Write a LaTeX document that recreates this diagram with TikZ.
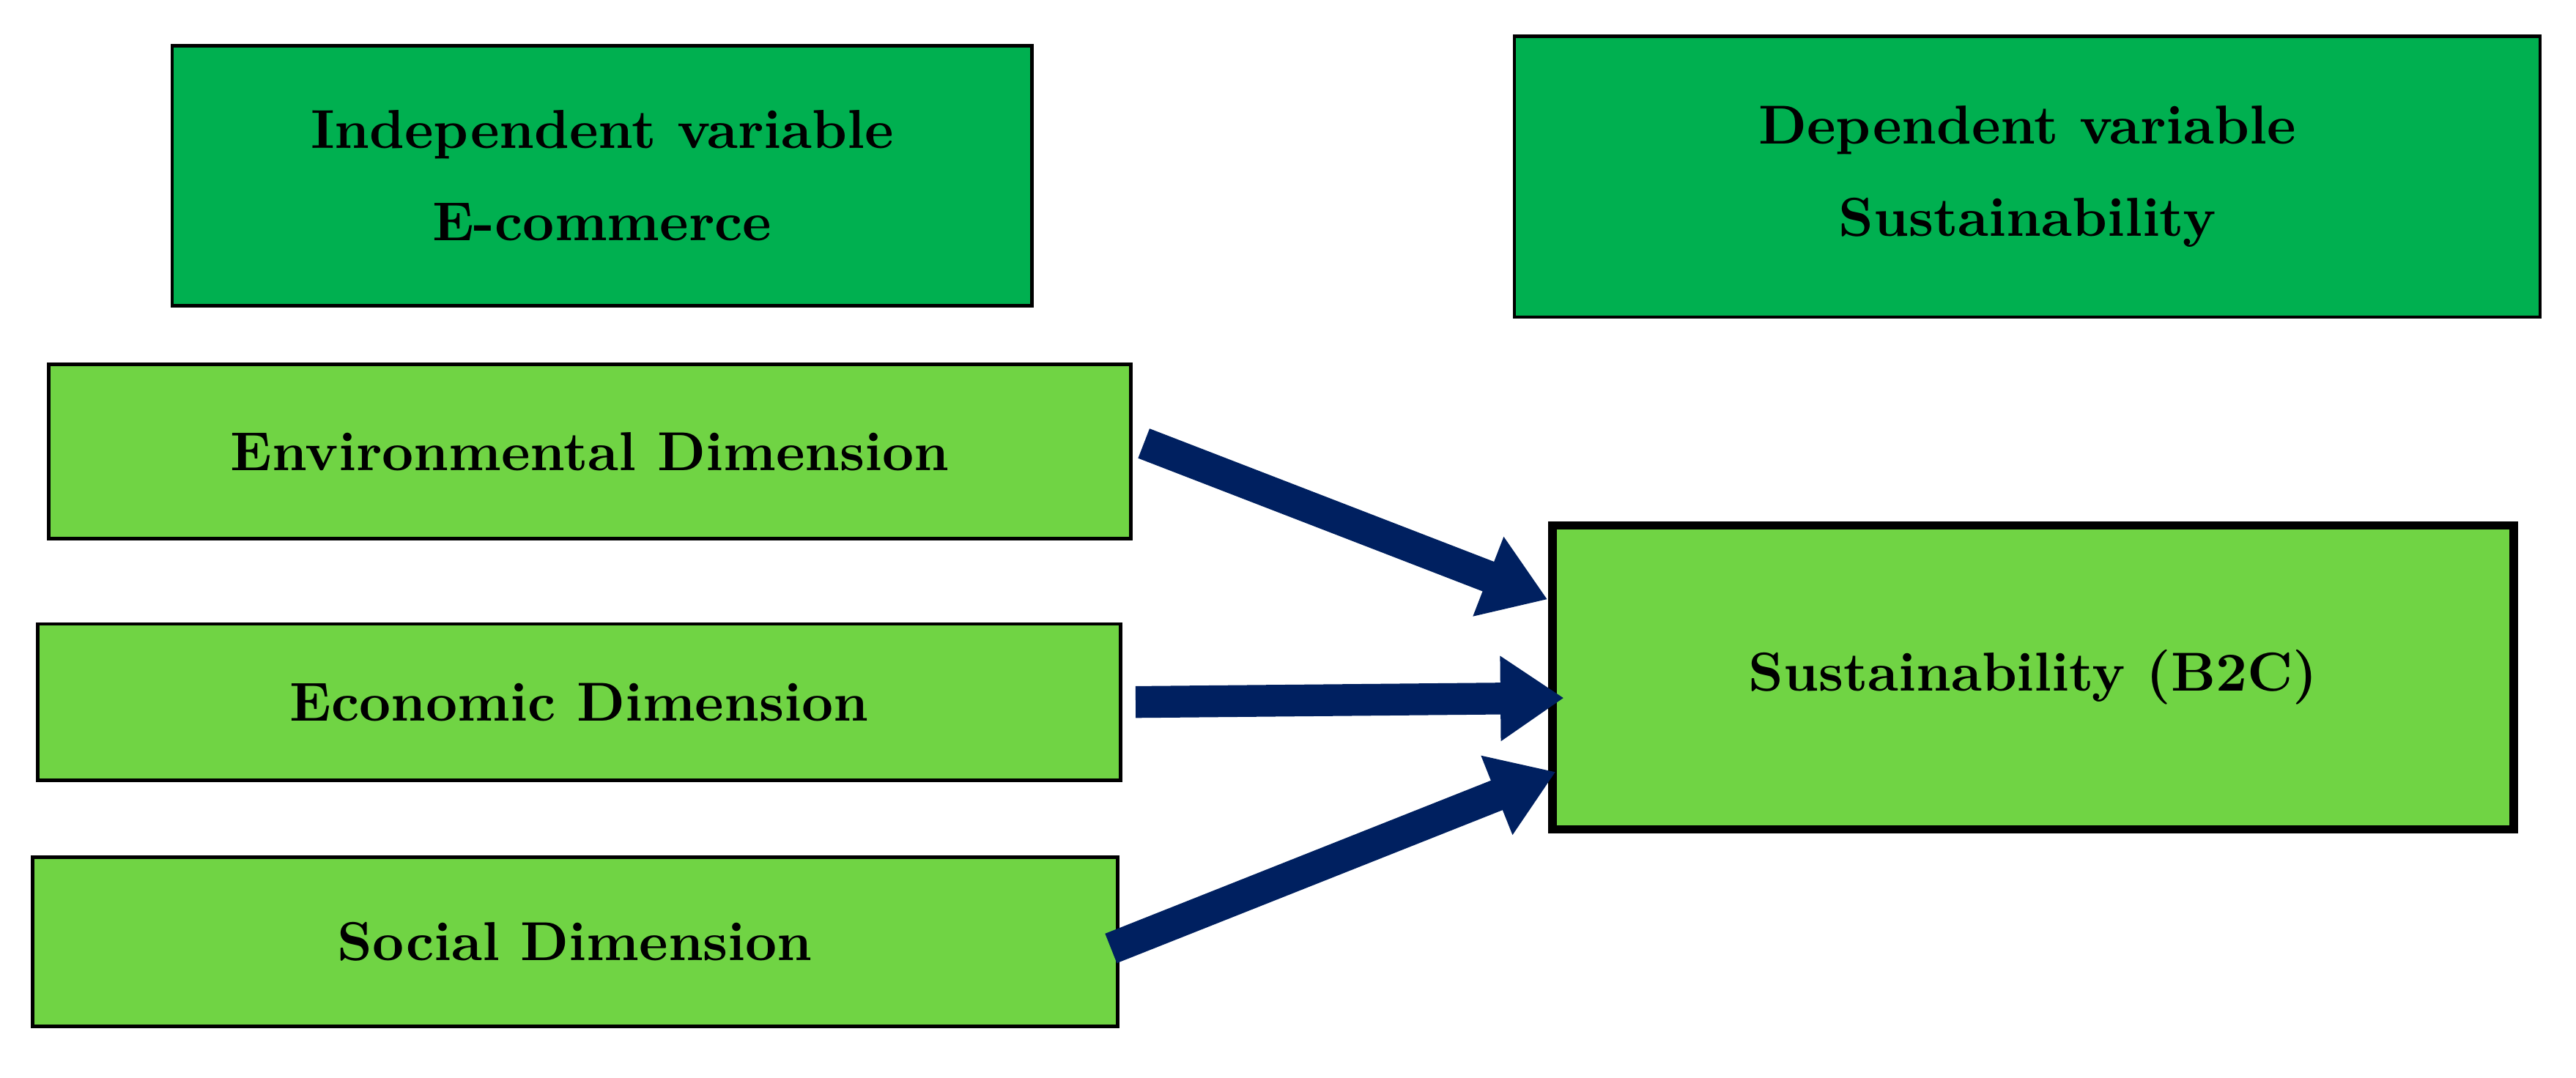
\documentclass[tikz,border=0pt]{standalone}
\usetikzlibrary{arrows.meta}
\definecolor{darkgr}{HTML}{00B050}
\definecolor{lightgr}{HTML}{70D444}
\definecolor{navy}{HTML}{002060}
\tikzset{
  box/.style={draw=black, line width=0.6pt, font=\bfseries\fontsize{9.5}{16}\selectfont, align=center, inner sep=0pt},
  varbox/.style={box, fill=darkgr},
  dimbox/.style={box, fill=lightgr},
  bigarrow/.style={navy, line width=5.5pt, -{Triangle[length=11pt,width=14pt]}}
}
\begin{document}
\begin{tikzpicture}[x=0.01cm,y=-0.01cm]
  \useasboundingbox (0,0) rectangle (1568,656);
  % header boxes
  \node[varbox, minimum width=5.23cm, minimum height=1.58cm] (indep) at (366.5,107) {Independent variable\\E-commerce};
  \node[varbox, minimum width=6.24cm, minimum height=1.71cm] (dep) at (1234,107.5) {Dependent variable\\Sustainability};
  % dimensions
  \node[dimbox, minimum width=6.58cm, minimum height=1.06cm] (env) at (359,275) {Environmental Dimension};
  \node[dimbox, minimum width=6.59cm, minimum height=0.95cm] (econ) at (352.5,427.5) {Economic Dimension};
  \node[dimbox, minimum width=6.60cm, minimum height=1.03cm] (soc) at (350,573.5) {Social Dimension};
  \node[dimbox, line width=1.5pt, minimum width=5.85cm, minimum height=1.85cm] (sus) at (1237.5,412.5) {Sustainability (B2C)};
  % arrows
  \coordinate (envend) at (942,365);
  \coordinate (econend) at (952,425);
  \coordinate (socend) at (947,470);
  \draw[bigarrow] ([xshift=0.07cm,yshift=0.05cm]env.east) -- (envend);
  \draw[bigarrow] ([xshift=0.08cm]econ.east) -- (econend);
  \draw[bigarrow] ([xshift=-0.05cm,yshift=-0.04cm]soc.east) -- (socend);
\end{tikzpicture}
\end{document}
